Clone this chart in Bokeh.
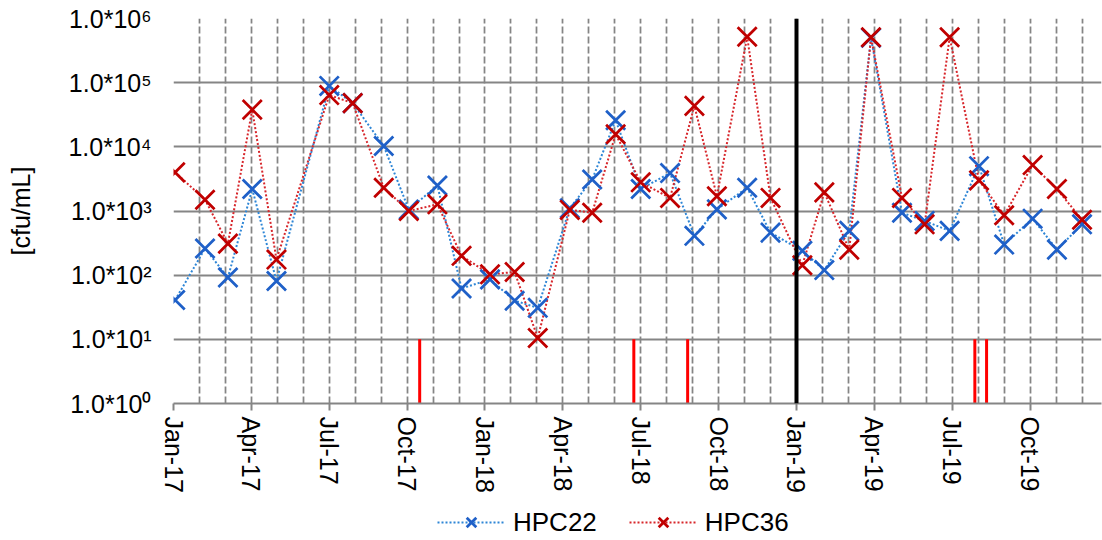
import calendar

from bokeh.embed import file_html
from bokeh.layouts import column
from bokeh.models import ColumnDataSource, FixedTicker, Legend, LegendItem, Range1d, Span
from bokeh.plotting import figure
from bokeh.resources import INLINE

# Sampling dates and heterotrophic plate counts [cfu/mL]
sample_dates = [
    "2017-01-03", "2017-02-07", "2017-03-04", "2017-04-02", "2017-04-30",
    "2017-07-01", "2017-07-29", "2017-09-04", "2017-10-03", "2017-11-06",
    "2017-12-04", "2018-01-07", "2018-02-05", "2018-03-02", "2018-04-09",
    "2018-05-05", "2018-06-02", "2018-07-01", "2018-08-05", "2018-09-03",
    "2018-09-29", "2018-11-04", "2018-12-01", "2019-01-08", "2019-02-03",
    "2019-03-02", "2019-03-28", "2019-05-03", "2019-05-30", "2019-06-28",
    "2019-08-02", "2019-09-01", "2019-10-04", "2019-11-02", "2019-12-01",
]
hpc22 = [
    41, 260, 92, 2200, 81, 89000, 48000, 10300, 1050, 2500,
    62, 86, 40, 31, 1100, 3100, 26000, 2200, 3900, 410,
    1060, 2300, 460, 240, 120, 490, 500000, 940, 700, 490,
    5000, 300, 760, 250, 620,
]
hpc36 = [
    4000, 1500, 310, 38000, 175, 64000, 48000, 2300, 1000, 1270,
    200, 103, 112, 10.5, 1040, 940, 15700, 2800, 1600, 43500,
    1700, 520000, 1600, 143, 1950, 250, 510000, 1600, 620, 510000,
    3000, 860, 5200, 2200, 730,
]

# Events marked at the bottom of the chart, and the start of 2019
event_dates = ["2017-10-16", "2018-06-23", "2018-08-26", "2019-07-28", "2019-08-11"]
event_low, event_high = 1, 10
divider_dates = ["2019-01-01"]

x_tick_labels = ["Jan-17", "Apr-17", "Jul-17", "Oct-17", "Jan-18", "Apr-18",
                 "Jul-18", "Oct-18", "Jan-19", "Apr-19", "Jul-19", "Oct-19"]
y_ticks = [1, 10, 100, 1000, 10000, 100000, 1000000]
y_tick_labels = ["1.0*10⁰", "1.0*10¹", "1.0*10²", "1.0*10³",
                 "1.0*10⁴", "1.0*10⁵", "1.0*10⁶"]


def month_pos(s):
    """Position in months since January 2017 (month axis with equal widths)."""
    y, m, d = (int(v) for v in s.split("-"))
    days = calendar.monthrange(y, m)[1]
    return (y - 2017) * 12 + (m - 1) + (d - 1) / days


xs = [month_pos(s) for s in sample_dates]
ev = [month_pos(s) for s in event_dates]

FONT = "Liberation Sans"
GRID = "#858585"
BLUE_LINE, BLUE_MARK = "#2e86d6", "#1f60c8"
RED_LINE, RED_MARK = "#d7262b", "#c00000"
LINE_KW = dict(line_width=2, line_dash="2 2")
MARK_KW = dict(marker="x", size=27, line_width=2.75)

p = figure(
    width=1102, height=500,
    y_axis_type="log",
    x_range=Range1d(0, 35.75), y_range=Range1d(1, 1e6),
    output_backend="svg", toolbar_location=None,
    min_border_left=173, min_border_right=1, min_border_top=18,
    min_border_bottom=97,
)
p.outline_line_color = None
p.border_fill_color = "white"

# Grids: monthly dashed verticals, solid decade horizontals
p.xgrid.ticker = FixedTicker(ticks=list(range(0, 37)), minor_ticks=[])
p.xgrid.grid_line_color = GRID
p.xgrid.grid_line_dash = "7 3"
p.xgrid.grid_line_width = 1.75
p.ygrid.ticker = FixedTicker(ticks=y_ticks, minor_ticks=[])
p.ygrid.grid_line_color = GRID
p.ygrid.grid_line_width = 2

# X axis
xt = list(range(0, 36, 3))
p.xaxis.ticker = FixedTicker(ticks=xt, minor_ticks=[])
p.xaxis.major_label_overrides = {t: lab for t, lab in zip(xt, x_tick_labels)}
p.xaxis.major_label_orientation = "vertical"
p.xaxis.major_label_text_font = FONT
p.xaxis.major_label_text_font_size = "25px"
p.xaxis.major_label_text_color = "black"
p.xaxis.axis_line_color = GRID
p.xaxis.axis_line_width = 2
p.xaxis.major_tick_line_color = GRID
p.xaxis.major_tick_line_width = 2
p.xaxis.major_tick_in = 0
p.xaxis.major_tick_out = 7
p.xaxis.major_label_standoff = 6

# Y axis
p.yaxis.ticker = FixedTicker(ticks=y_ticks, minor_ticks=[])
p.yaxis.major_label_overrides = {t: lab for t, lab in zip(y_ticks, y_tick_labels)}
p.yaxis.major_label_text_font = FONT
p.yaxis.major_label_text_font_size = "25px"
p.yaxis.major_label_text_color = "black"
p.yaxis.axis_line_color = None
p.yaxis.major_tick_line_color = None
p.yaxis.minor_tick_line_color = None
p.yaxis.major_label_standoff = 16
p.yaxis.axis_label = "[cfu/mL]"
p.yaxis.axis_label_text_font = FONT
p.yaxis.axis_label_text_font_size = "25px"
p.yaxis.axis_label_text_font_style = "normal"
p.yaxis.axis_label_text_color = "black"
p.yaxis.axis_label_standoff = 30

# Start of 2019
for d in divider_dates:
    p.add_layout(Span(location=month_pos(d), dimension="height",
                      line_color="black", line_width=4))

# Event markers
p.segment(x0=ev, x1=ev, y0=[event_low] * len(ev), y1=[event_high] * len(ev),
          line_color="#ff0000", line_width=3)

# Series
p.line(xs, hpc22, line_color=BLUE_LINE, **LINE_KW)
p.line(xs, hpc36, line_color=RED_LINE, **LINE_KW)
p.scatter(xs, hpc22, line_color=BLUE_MARK, **MARK_KW)
p.scatter(xs, hpc36, line_color=RED_MARK, **MARK_KW)

# Legend strip underneath the month labels; its key renderers hold no
# drawable points (NaN), they only supply the legend glyph styles
leg = figure(width=1102, height=40, output_backend="svg", toolbar_location=None,
             x_range=Range1d(0, 1), y_range=Range1d(0, 1),
             min_border=0, x_axis_location=None, y_axis_location=None)
leg.outline_line_color = None
leg.grid.visible = False
nan = float("nan")
keysrc = ColumnDataSource(data=dict(x=[nan], y=[nan]))
k22 = [leg.line("x", "y", source=keysrc, line_color=BLUE_LINE, **LINE_KW),
       leg.scatter("x", "y", source=keysrc, line_color=BLUE_MARK,
                   marker="x", size=18, line_width=2.75)]
k36 = [leg.line("x", "y", source=keysrc, line_color=RED_LINE, **LINE_KW),
       leg.scatter("x", "y", source=keysrc, line_color=RED_MARK,
                   marker="x", size=18, line_width=2.75)]
legend = Legend(
    items=[LegendItem(label="HPC22", renderers=k22),
           LegendItem(label="HPC36", renderers=k36)],
    orientation="horizontal", location=(264, 1),
    label_text_font=FONT, label_text_font_size="26px", label_text_color="black",
    glyph_width=68, glyph_height=34, label_standoff=8, spacing=32,
    padding=0, margin=0, border_line_color=None, background_fill_alpha=0,
)
leg.add_layout(legend, "center")

open("out.html", "w").write(file_html(column(p, leg, spacing=0), INLINE))
